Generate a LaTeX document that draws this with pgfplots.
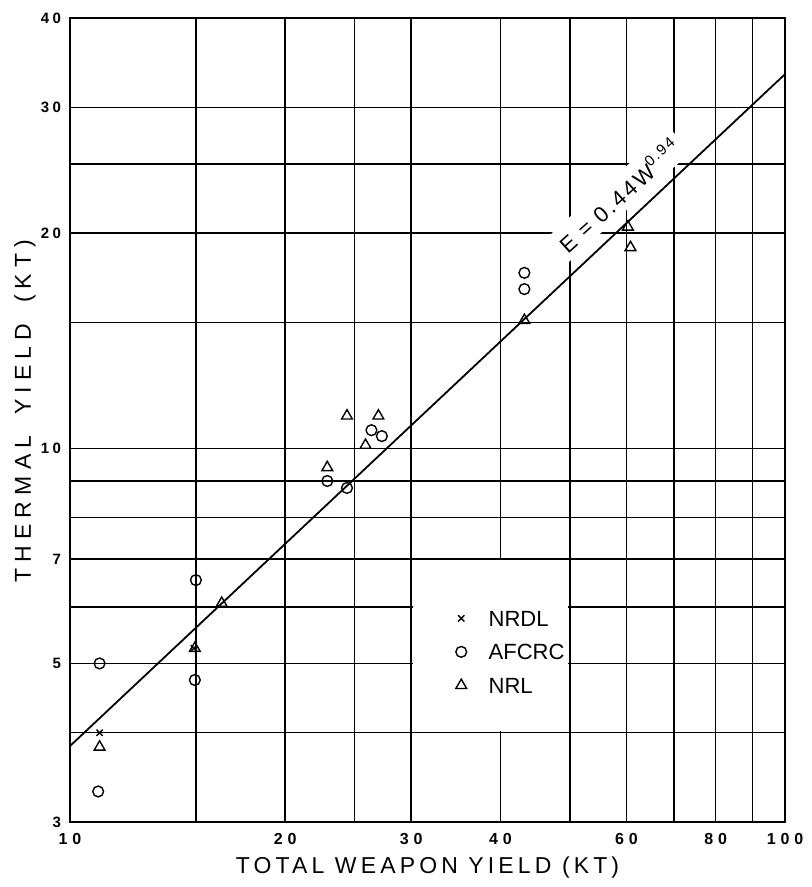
\documentclass[border=0pt]{standalone}
\usepackage{fontspec}
\usepackage{pgfplots}
\pgfplotsset{compat=1.18}
\setmainfont{Liberation Sans}
\newfontfamily\tickf{Liberation Sans}[LetterSpace=30]
\newfontfamily\ytickf{Liberation Sans}[LetterSpace=22]
\newfontfamily\labf{Liberation Sans}[LetterSpace=18]
\newfontfamily\ylabf{Liberation Sans}[LetterSpace=27]
\newfontfamily\eqf{Liberation Sans}[LetterSpace=12]
\newfontfamily\legf{Liberation Sans}
\begin{document}
\begin{tikzpicture}[x=1pt,y=1pt]
\useasboundingbox (0,0) rectangle (406,443.5);
\begin{axis}[
  at={(35pt,32.5pt)}, anchor=south west,
  scale only axis, width=357.5pt, height=402pt,
  xmode=log, ymode=log,
  xmin=10, xmax=100, ymin=3, ymax=40,
  enlargelimits=false,
  log basis x=10, log basis y=10,
  xtick={10,20,30,40,60,80,100},
  xticklabels={10,20,30,40,60,80,100},
  minor xtick={15,25,50,70,90},
  ytick={3,5,7,10,20,30,40},
  yticklabels={3,5,7,10,20,30,40},
  minor ytick={4,6,8,9,15,25},
  major tick length=0pt, minor tick length=0pt,
  grid=both,
  major grid style={black, line width=0.75pt},
  minor grid style={black, line width=0.75pt},
  axis line style={black, line width=0.9pt},
  /pgf/number format/assume math mode=true,
  xticklabel style={font=\tickf\bfseries\fontsize{8}{9}\selectfont, yshift=-2pt},
  yticklabel style={font=\ytickf\bfseries\fontsize{7.5}{9}\selectfont, xshift=-1pt},
  xlabel={TOTAL WEAPON YIELD (KT)},
  ylabel={THERMAL\hspace{4pt} YIELD\hspace{4pt} (KT)},
  xlabel style={font=\labf\fontsize{11.5}{13}\selectfont, at={(axis description cs:0.5,-0.0572)}, anchor=center},
  ylabel style={font=\ylabf\fontsize{11.5}{13}\selectfont, at={(axis description cs:-0.063,0.511)}, anchor=center},
  legend cell align=left,
  legend style={at={(axis cs:34.6,5.19)}, anchor=west, draw=none, fill=none, inner sep=0pt,
    font=\legf\fontsize{11}{12}\selectfont,
    nodes={inner sep=0pt, text height=8pt, text depth=0pt},
    row sep=8.75pt, column sep=11pt},
]
% white areas (legend box, equation label)
\fill[white] ([xshift=0.7pt,yshift=0.7pt]axis cs:30,4) rectangle ([xshift=-0.7pt,yshift=-0.7pt]axis cs:50,7);
\node[rotate=42, fill=white, inner sep=3pt, font=\eqf\fontsize{11}{12}\selectfont] at (axis cs:58.5,22.6) {E = 0.44W\raisebox{5pt}{\fontsize{7.5}{8}\selectfont 0.94}};

\addplot[only marks, mark=x, mark size=2.2pt, black, line width=0.7pt] coordinates {
  (14.9,5.25) (11.0,4.0)
};
\addlegendentry{NRDL}
\addplot[only marks, mark=o, mark size=2.7pt, black, line width=0.7pt, mark options={fill=white}] coordinates {
  (10.95,3.31) (11.0,5.0) (14.95,4.74) (15.0,6.54) (22.9,9.0) (24.4,8.8)
  (26.4,10.6) (27.3,10.4) (43.2,17.6) (43.2,16.7)
};
\addlegendentry{AFCRC}
\addplot[only marks, mark=triangle, mark size=3.1pt, black, line width=0.7pt] coordinates {
  (11.0,3.82) (14.95,5.25) (16.3,6.07) (22.9,9.4) (24.4,11.1) (25.9,10.1)
  (27.0,11.1) (43.2,15.1) (60.3,20.4) (60.8,19.1)
};
\addlegendentry{NRL}
\addplot[forget plot, black, line width=0.9pt] coordinates {(10,3.832) (100,33.38)};
\end{axis}
\end{tikzpicture}
\end{document}
